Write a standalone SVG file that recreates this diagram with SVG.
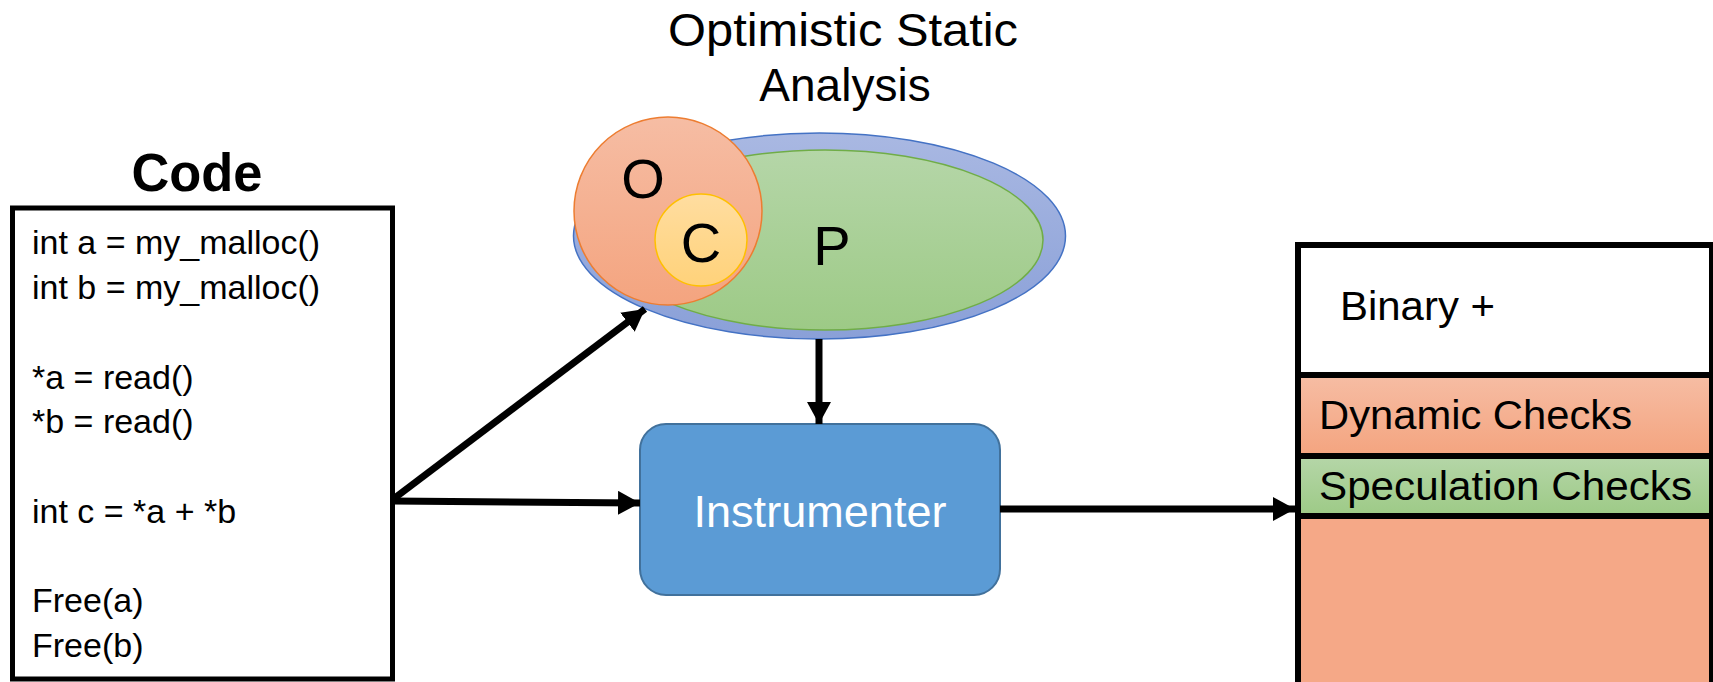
<svg xmlns="http://www.w3.org/2000/svg" width="1713" height="682" viewBox="0 0 1713 682">
<style>
text{font-family:"Liberation Sans",Arial,sans-serif;fill:#000}
.code{font-size:34px}
.big{font-size:56px}
.lbl{font-size:41px}
.conn{stroke:#000;stroke-width:7;fill:none}
</style>
<defs>
<marker id="ah" markerUnits="userSpaceOnUse" markerWidth="26" markerHeight="26" refX="22" refY="12" orient="auto">
<path d="M0,0 L22,12 L0,24 z" fill="#000"/>
</marker>
<linearGradient id="gBlue" x1="0" y1="0" x2="0" y2="1"><stop offset="0" stop-color="#A9B8E2"/><stop offset="1" stop-color="#8AA0D8"/></linearGradient>
<linearGradient id="gGreen" x1="0" y1="0" x2="0" y2="1"><stop offset="0" stop-color="#B5D6A8"/><stop offset="1" stop-color="#9DCA86"/></linearGradient>
<linearGradient id="gOrange" x1="0" y1="0" x2="0" y2="1"><stop offset="0" stop-color="#F6BDA4"/><stop offset="1" stop-color="#F4A47F"/></linearGradient>
<linearGradient id="gYellow" x1="0" y1="0" x2="0" y2="1"><stop offset="0" stop-color="#FFDDA0"/><stop offset="1" stop-color="#FFD27A"/></linearGradient>
</defs>

<g id="code">
<text x="197" y="191" font-size="54" font-weight="bold" text-anchor="middle" textLength="131" lengthAdjust="spacingAndGlyphs">Code</text>
<rect x="12.5" y="208" width="380" height="471" fill="#fff" stroke="#000" stroke-width="5"/>
<text class="code" x="32" y="254">int a = my_malloc()</text>
<text class="code" x="32" y="299">int b = my_malloc()</text>
<text class="code" x="32" y="389">*a = read()</text>
<text class="code" x="32" y="433">*b = read()</text>
<text class="code" x="32" y="523">int c = *a + *b</text>
<text class="code" x="32" y="612">Free(a)</text>
<text class="code" x="32" y="657">Free(b)</text>
</g>

<g id="analysis">
<text x="843" y="46" font-size="46" text-anchor="middle" textLength="350" lengthAdjust="spacingAndGlyphs">Optimistic Static</text>
<text x="845" y="101" font-size="46" text-anchor="middle">Analysis</text>
<ellipse cx="819.5" cy="236" rx="246" ry="103" fill="url(#gBlue)" stroke="#4472C4" stroke-width="1.5"/>
<ellipse cx="825" cy="240" rx="218" ry="90" fill="url(#gGreen)" stroke="#70AD47" stroke-width="1.5"/>
<circle cx="668" cy="211" r="94" fill="url(#gOrange)" stroke="#ED7D31" stroke-width="1.5"/>
<circle cx="701" cy="240" r="46" fill="url(#gYellow)" stroke="#FFC000" stroke-width="1.5"/>
<text class="big" x="643" y="198" text-anchor="middle">O</text>
<text class="big" x="701" y="262" text-anchor="middle">C</text>
<text class="big" x="832" y="265" text-anchor="middle" font-size="58">P</text>
</g>

<g id="instrumenter">
<rect x="640" y="424" width="360" height="171" rx="26" fill="#5B9BD5" stroke="#41719C" stroke-width="2"/>
<text x="820" y="527" font-size="44" text-anchor="middle" textLength="253" lengthAdjust="spacingAndGlyphs" style="fill:#fff">Instrumenter</text>
</g>

<g id="binary">
<rect x="1298" y="245" width="420" height="440" fill="#fff"/>
<rect x="1298" y="375" width="420" height="81" fill="url(#gOrange)"/>
<rect x="1298" y="456" width="420" height="60" fill="url(#gGreen)"/>
<rect x="1298" y="516" width="420" height="170" fill="#F5A887"/>
<rect x="1298" y="245" width="414" height="445" fill="none" stroke="#000" stroke-width="6"/>
<line x1="1298" y1="375" x2="1713" y2="375" stroke="#000" stroke-width="6"/>
<line x1="1298" y1="456" x2="1713" y2="456" stroke="#000" stroke-width="6"/>
<line x1="1298" y1="516" x2="1713" y2="516" stroke="#000" stroke-width="6"/>
<text class="lbl" x="1340" y="320" textLength="155" lengthAdjust="spacingAndGlyphs">Binary +</text>
<text class="lbl" x="1319" y="429" textLength="313" lengthAdjust="spacingAndGlyphs">Dynamic Checks</text>
<text class="lbl" x="1319" y="500" textLength="373" lengthAdjust="spacingAndGlyphs">Speculation Checks</text>
</g>

<g id="connectors">
<line class="conn" x1="392" y1="500" x2="645" y2="309" marker-end="url(#ah)"/>
<line class="conn" x1="392" y1="501" x2="640" y2="503" marker-end="url(#ah)"/>
<line class="conn" x1="819" y1="339" x2="819" y2="424" marker-end="url(#ah)"/>
<line class="conn" x1="1000" y1="509" x2="1295" y2="509" marker-end="url(#ah)"/>
</g>
</svg>
